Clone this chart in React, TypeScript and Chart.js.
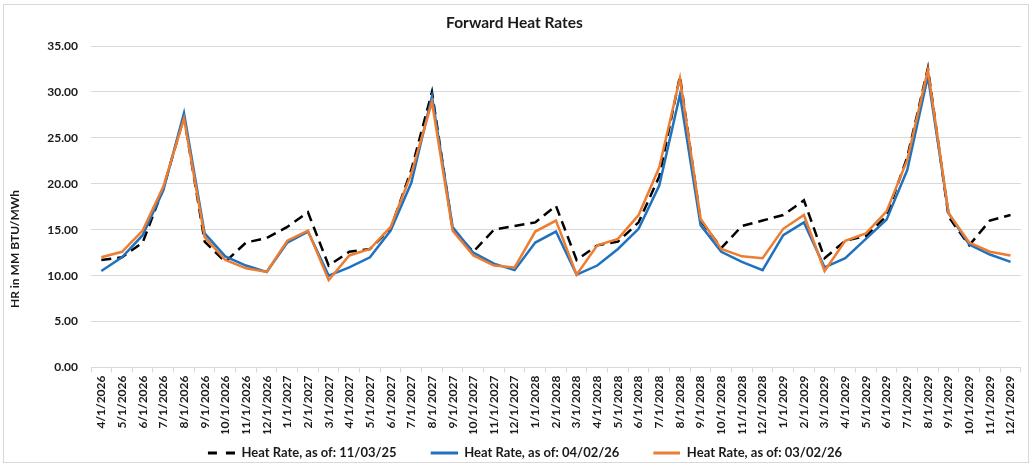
import React, { useEffect, useRef } from 'react';
import { Chart, registerables } from 'chart.js';

Chart.register(...registerables);

const chartTitle = 'Forward Heat Rates';
const yAxisTitle = 'HR in MM BTU/MWh';

const categories = [
  '4/1/2026', '5/1/2026', '6/1/2026', '7/1/2026', '8/1/2026', '9/1/2026', '10/1/2026', '11/1/2026', '12/1/2026',
  '1/1/2027', '2/1/2027', '3/1/2027', '4/1/2027', '5/1/2027', '6/1/2027', '7/1/2027', '8/1/2027', '9/1/2027', '10/1/2027', '11/1/2027', '12/1/2027',
  '1/1/2028', '2/1/2028', '3/1/2028', '4/1/2028', '5/1/2028', '6/1/2028', '7/1/2028', '8/1/2028', '9/1/2028', '10/1/2028', '11/1/2028', '12/1/2028',
  '1/1/2029', '2/1/2029', '3/1/2029', '4/1/2029', '5/1/2029', '6/1/2029', '7/1/2029', '8/1/2029', '9/1/2029', '10/1/2029', '11/1/2029', '12/1/2029',
];

const seriesLabels = [
  'Heat Rate, as of: 11/03/25',
  'Heat Rate, as of: 04/02/26',
  'Heat Rate, as of: 03/02/26',
];

const heatRate110325 = [
  11.7, 12.0, 13.6, 19.5, 27.3, 13.7, 11.5, 13.6, 14.1,
  15.3, 16.9, 11.1, 12.6, 12.9, 15.1, 21.5, 30.0, 15.0, 12.6, 15.0, 15.4,
  15.8, 17.6, 11.7, 13.3, 13.7, 15.8, 20.8, 31.7, 16.0, 13.0, 15.4, 16.0,
  16.6, 18.2, 11.9, 13.8, 14.3, 16.5, 22.9, 32.6, 16.4, 13.3, 16.0, 16.6,
];

const heatRate040226 = [
  10.5, 12.0, 14.4, 19.3, 27.7, 14.6, 12.1, 11.1, 10.4,
  13.6, 14.8, 10.0, 10.9, 12.0, 14.9, 20.1, 29.5, 15.3, 12.5, 11.3, 10.6,
  13.6, 14.8, 10.1, 11.1, 12.9, 15.1, 19.8, 29.7, 15.5, 12.6, 11.5, 10.6,
  14.4, 15.8, 10.9, 11.9, 14.0, 16.1, 21.5, 31.7, 16.8, 13.4, 12.3, 11.5,
];

const heatRate030226 = [
  12.0, 12.6, 14.9, 19.7, 27.1, 14.2, 11.7, 10.8, 10.4,
  13.8, 14.9, 9.5, 12.2, 12.9, 15.3, 21.1, 28.9, 14.9, 12.2, 11.1, 10.9,
  14.8, 16.0, 10.1, 13.3, 14.0, 16.6, 21.8, 31.5, 16.2, 12.9, 12.1, 11.9,
  15.1, 16.6, 10.5, 13.8, 14.6, 17.0, 22.6, 32.4, 16.8, 13.6, 12.6, 12.2,
];

const yMin = 0;
const yMax = 35;
const yStep = 5;

const FONT = 'Lato, "Open Sans", sans-serif';
const TEXT = '#1a1a1a';
const GRID = '#d9d9d9';

const LEGEND_GAP = 21;
const LEGEND_LINE = 27;

// Legend marker: transparent lead-in space, then the line sample on the right.
function makeLegendMarker(color: string, dash: number[]) {
  const c = document.createElement('canvas');
  c.width = LEGEND_GAP + LEGEND_LINE;
  c.height = 4;
  const ctx = c.getContext('2d');
  if (ctx) {
    ctx.strokeStyle = color;
    ctx.lineWidth = 3;
    ctx.setLineDash(dash);
    ctx.beginPath();
    ctx.moveTo(LEGEND_GAP, 2);
    ctx.lineTo(LEGEND_GAP + LEGEND_LINE, 2);
    ctx.stroke();
  }
  return c;
}

const yTitlePlugin = {
  id: 'yTitlePlugin',
  afterDraw(chart: any) {
    const ctx = chart.ctx;
    ctx.save();
    ctx.translate(11, 244);
    ctx.rotate(-Math.PI / 2);
    ctx.font = `bold 12px ${FONT}`;
    ctx.fillStyle = TEXT;
    ctx.textAlign = 'center';
    ctx.textBaseline = 'middle';
    ctx.fillText(yAxisTitle, 0, 0);
    ctx.restore();
  },
};

export default function App() {
  const canvasRef = useRef<HTMLCanvasElement | null>(null);

  useEffect(() => {
    document.body.style.margin = '0';
    const canvas = canvasRef.current;
    if (!canvas) return;
    const markers = [
      makeLegendMarker('#000000', [9, 9]),
      makeLegendMarker('#1f72c0', []),
      makeLegendMarker('#ed7d31', []),
    ];
    const chart = new Chart(canvas, {
      type: 'line',
      data: {
        labels: categories,
        datasets: [
          {
            label: seriesLabels[0],
            data: heatRate110325,
            borderColor: '#000000',
            backgroundColor: '#000000',
            borderWidth: 2.5,
            borderDash: [10, 6],
            pointRadius: 0,
            tension: 0,
            order: 2,
          },
          {
            label: seriesLabels[1],
            data: heatRate040226,
            borderColor: '#1f72c0',
            backgroundColor: '#1f72c0',
            borderWidth: 2.5,
            pointRadius: 0,
            tension: 0,
            order: 1,
          },
          {
            label: seriesLabels[2],
            data: heatRate030226,
            borderColor: '#ed7d31',
            backgroundColor: '#ed7d31',
            borderWidth: 2.5,
            pointRadius: 0,
            tension: 0,
            order: 0,
          },
        ],
      },
      options: {
        animation: false,
        responsive: false,
        maintainAspectRatio: false,
        layout: { padding: { left: 0, right: 3, top: 0, bottom: -7.5 } },
        plugins: {
          title: {
            display: true,
            text: chartTitle,
            color: TEXT,
            font: { family: FONT, size: 15.5, weight: 'bold' },
            padding: { top: 9, bottom: 13.4 },
          },
          legend: {
            position: 'bottom',
            labels: {
              usePointStyle: true,
              pointStyleWidth: LEGEND_GAP + LEGEND_LINE,
              padding: 13,
              color: TEXT,
              font: { family: FONT, size: 13, weight: 'bold' },
              sort: (a: any, b: any) => a.datasetIndex - b.datasetIndex,
              generateLabels: (c: any) => {
                const items = (Chart.defaults as any).plugins.legend.labels.generateLabels(c);
                items.forEach((it: any) => {
                  it.pointStyle = markers[it.datasetIndex];
                  it.rotation = 0;
                });
                return items;
              },
            },
          },
          tooltip: { enabled: false },
        },
        scales: {
          x: {
            type: 'category',
            offset: true,
            afterFit: (scale: any) => {
              scale.height = 66;
            },
            grid: {
              offset: true,
              drawOnChartArea: false,
              drawTicks: true,
              tickLength: 5,
              color: GRID,
            },
            border: { display: true, color: GRID },
            ticks: {
              autoSkip: false,
              minRotation: 90,
              maxRotation: 90,
              padding: 3,
              color: TEXT,
              font: { family: FONT, size: 12, weight: 'bold' },
            },
          },
          y: {
            min: yMin,
            max: yMax,
            afterFit: (scale: any) => {
              scale.width = 87;
            },
            grid: { color: GRID, drawTicks: false },
            border: { display: false },
            ticks: {
              stepSize: yStep,
              padding: 13,
              color: TEXT,
              font: { family: FONT, size: 12, weight: 'bold' },
              callback: (v: any) => Number(v).toFixed(2),
            },
          },
        },
      },
      plugins: [yTitlePlugin],
    });
    return () => chart.destroy();
  }, []);

  return (
    <div style={{ position: 'relative', width: 1032, height: 466, background: '#ffffff' }}>
      <div
        style={{
          position: 'absolute',
          left: 3,
          top: 4,
          width: 1026,
          height: 459,
          border: `1px solid ${GRID}`,
          boxSizing: 'border-box',
        }}
      >
        <canvas ref={canvasRef} width={1024} height={457} style={{ display: 'block' }} />
      </div>
    </div>
  );
}
